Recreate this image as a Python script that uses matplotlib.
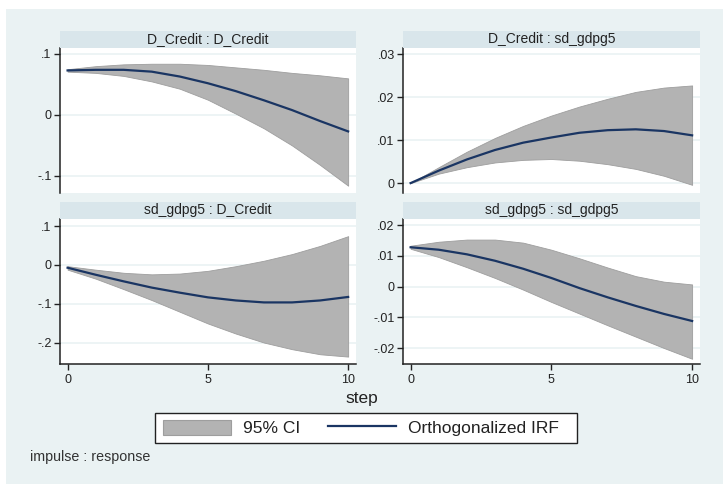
import matplotlib
matplotlib.use("Agg")
from matplotlib import pyplot as plt
from matplotlib.patches import Rectangle, Patch
from matplotlib.lines import Line2D
from matplotlib.ticker import FuncFormatter

plt.rcParams["font.family"] = ["Liberation Sans", "DejaVu Sans"]

steps = [0, 1, 2, 3, 4, 5, 6, 7, 8, 9, 10]

# D_Credit : D_Credit
irf_cc = [0.073, 0.074, 0.074, 0.071, 0.063, 0.052, 0.039, 0.024, 0.008, -0.010, -0.027]
lo_cc = [0.071, 0.069, 0.064, 0.055, 0.043, 0.025, 0.002, -0.022, -0.050, -0.082, -0.116]
hi_cc = [0.075, 0.080, 0.083, 0.084, 0.084, 0.082, 0.078, 0.074, 0.069, 0.065, 0.060]

# D_Credit : sd_gdpg5
irf_cg = [0.0, 0.0029, 0.0055, 0.0077, 0.0094, 0.0106, 0.0117, 0.0123, 0.0125, 0.0121, 0.0111]
lo_cg = [0.0, 0.0022, 0.0037, 0.0048, 0.0054, 0.0056, 0.0052, 0.0044, 0.0033, 0.0017, -0.0004]
hi_cg = [0.0, 0.0037, 0.0073, 0.0105, 0.0133, 0.0157, 0.0178, 0.0196, 0.0212, 0.0222, 0.0227]

# sd_gdpg5 : D_Credit
irf_gc = [-0.007, -0.025, -0.042, -0.058, -0.071, -0.083, -0.091, -0.096, -0.096, -0.091, -0.082]
lo_gc = [-0.012, -0.035, -0.062, -0.090, -0.120, -0.150, -0.176, -0.199, -0.216, -0.229, -0.235]
hi_gc = [-0.003, -0.012, -0.020, -0.024, -0.022, -0.015, -0.003, 0.011, 0.028, 0.049, 0.074]

# sd_gdpg5 : sd_gdpg5
irf_gg = [0.0128, 0.0120, 0.0105, 0.0084, 0.0058, 0.0028, -0.0005, -0.0035, -0.0063, -0.0089, -0.0112]
lo_gg = [0.0123, 0.0096, 0.0063, 0.0028, -0.0010, -0.0050, -0.0088, -0.0126, -0.0163, -0.0200, -0.0235]
hi_gg = [0.0133, 0.0146, 0.0153, 0.0153, 0.0143, 0.0120, 0.0092, 0.0062, 0.0034, 0.0016, 0.0007]

panels = [
    ("D_Credit : D_Credit", irf_cc, lo_cc, hi_cc, [-0.1, 0, 0.1], (-0.128, 0.1098)),
    ("D_Credit : sd_gdpg5", irf_cg, lo_cg, hi_cg, [0, 0.01, 0.02, 0.03], (-0.0023, 0.0314)),
    ("sd_gdpg5 : D_Credit", irf_gc, lo_gc, hi_gc, [-0.2, -0.1, 0, 0.1], (-0.254, 0.118)),
    ("sd_gdpg5 : sd_gdpg5", irf_gg, lo_gg, hi_gg, [-0.02, -0.01, 0, 0.01, 0.02], (-0.0252, 0.0220)),
]

bg = "#eaf2f3"
strip_col = "#d9e6eb"
ci_col = "#b3b3b3"
ci_edge = "#9e9e9e"
line_col = "#1a3563"

W, H = 723, 488
fig = plt.figure(figsize=(W / 100, H / 100), dpi=100)
fig.patch.set_facecolor("white")
fig.add_artist(Rectangle((6 / W, 1 - 484 / H), 717 / W, 475 / H, transform=fig.transFigure,
                         facecolor=bg, edgecolor="none", zorder=-10))


def stata_fmt(v, pos):
    if abs(v) < 1e-12:
        return "0"
    s = "%g" % v
    return s.replace("0.", ".")


# pixel boxes: (left, right, top, bottom)
boxes = [(60, 356, 48, 193), (403, 700, 48, 193), (60, 356, 219, 364), (403, 700, 219, 364)]

for i, (title, irf, lo, hi, yt, ylim) in enumerate(panels):
    l, r, t, b = boxes[i]
    ax = fig.add_axes([l / W, 1 - b / H, (r - l) / W, (b - t) / H])
    ax.set_facecolor("white")
    ax.fill_between(steps, lo, hi, facecolor=ci_col, edgecolor=ci_edge, linewidth=0.6, zorder=2)
    ax.plot(steps, irf, color=line_col, linewidth=1.6, zorder=3)
    ax.set_xlim(-0.27, 10.28)
    ax.set_ylim(*ylim)
    ax.set_yticks(yt)
    ax.yaxis.set_major_formatter(FuncFormatter(stata_fmt))
    ax.grid(axis="y", color=bg, linewidth=1.2, zorder=1)
    ax.grid(axis="x", visible=False)
    for sp in ["top", "right"]:
        ax.spines[sp].set_visible(False)
    ax.spines["left"].set_color("#222222")
    ax.spines["left"].set_linewidth(1.1)
    ax.tick_params(axis="y", direction="out", length=4, width=1, color="#222222",
                   labelsize=9, labelcolor="#222222", pad=2)
    if i >= 2:
        ax.set_xticks([0, 5, 10])
        ax.spines["bottom"].set_color("#222222")
        ax.spines["bottom"].set_linewidth(1.1)
        ax.tick_params(axis="x", direction="out", length=4, width=1, color="#222222",
                       labelsize=9, labelcolor="#222222", pad=3)
    else:
        ax.spines["bottom"].set_visible(False)
        ax.set_xticks([])

    fig.add_artist(Rectangle((l / W, 1 - t / H), (r - l) / W, 17.5 / H, transform=fig.transFigure,
                             facecolor=strip_col, edgecolor="none"))
    fig.text((l + r) / 2 / W, 1 - (t - 9) / H, title, ha="center", va="center",
             fontsize=10, color="#222222")

fig.text(362 / W, 1 - 398 / H, "step", ha="center", va="center", fontsize=12.5, color="#222222")

# legend frame drawn by hand, legend entries placed inside it
fig.add_artist(Rectangle((155 / W, 1 - 443 / H), 422 / W, 30 / H, transform=fig.transFigure,
                         facecolor="white", edgecolor="#222222", linewidth=1.0))
handles = [Patch(facecolor=ci_col, edgecolor=ci_edge, linewidth=0.8),
           Line2D([0], [0], color=line_col, linewidth=1.6)]
leg = fig.legend(handles, ["95% CI", "Orthogonalized IRF"], loc="center left",
                 bbox_to_anchor=(163 / W, 1 - 428 / H), ncol=2, fontsize=12.5,
                 frameon=False, handlelength=3.9, handleheight=1.0, handletextpad=0.7,
                 columnspacing=1.6, borderpad=0, borderaxespad=0)
for txt in leg.get_texts():
    txt.set_color("#222222")

fig.text(30 / W, 1 - 457 / H, "impulse : response", ha="left", va="center", fontsize=10.3,
         color="#333333")

fig.savefig("out.png", dpi=100)
